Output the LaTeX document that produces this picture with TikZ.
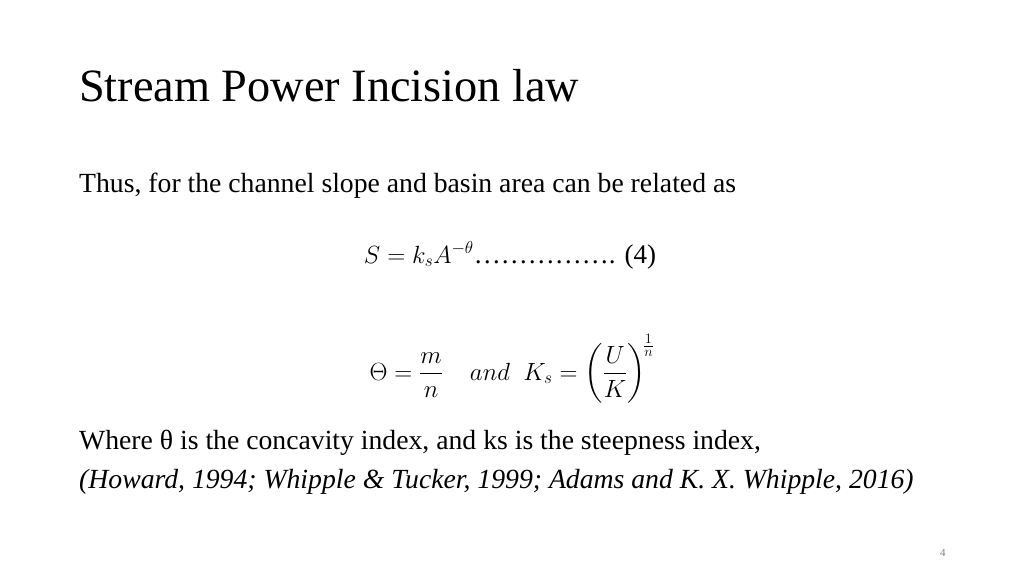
\documentclass[tikz,border=0pt]{standalone}
\usepackage{fontspec}
\usepackage{amsmath}
\setmainfont{Liberation Serif}
\tikzset{txt/.style={anchor=base west,inner sep=0pt},
 eq/.style={anchor=base,inner sep=0pt,font=\fontsize{27}{32}\selectfont}}
\begin{document}
\begin{tikzpicture}[x=1pt,y=-1pt]
\useasboundingbox (0,0) rectangle (1024,576);
\node[txt,font=\fontsize{46.3}{50}\selectfont] (title) at (79,101) {Stream Power Incision law};
\node[txt,font=\fontsize{27.7}{30}\selectfont] (l1) at (79,192) {Thus, for the channel slope and basin area can be related as};
\node[eq] (e4) at (510,263) {$S=k_sA^{-\theta}$\dots\dots\dots\dots\dots. (4)};
\node[eq] (e5) at (512,380) {$\Theta=\dfrac{m}{n}\quad and\ \ K_s=\left(\dfrac{U}{K}\right)^{\!\frac{1}{n}}$};
\node[txt,font=\fontsize{27.7}{30}\selectfont] (l2) at (79,449) {Where θ is the concavity index, and ks is the steepness index,};
\node[txt,font=\fontsize{27.7}{30}\selectfont\itshape] (l3) at (79,488) {(Howard, 1994; Whipple \& Tucker, 1999; Adams and K. X. Whipple, 2016)};
\node[txt,font=\fontsize{11}{12}\selectfont,text=gray] (pg) at (940,556) {4};
\end{tikzpicture}
\end{document}
